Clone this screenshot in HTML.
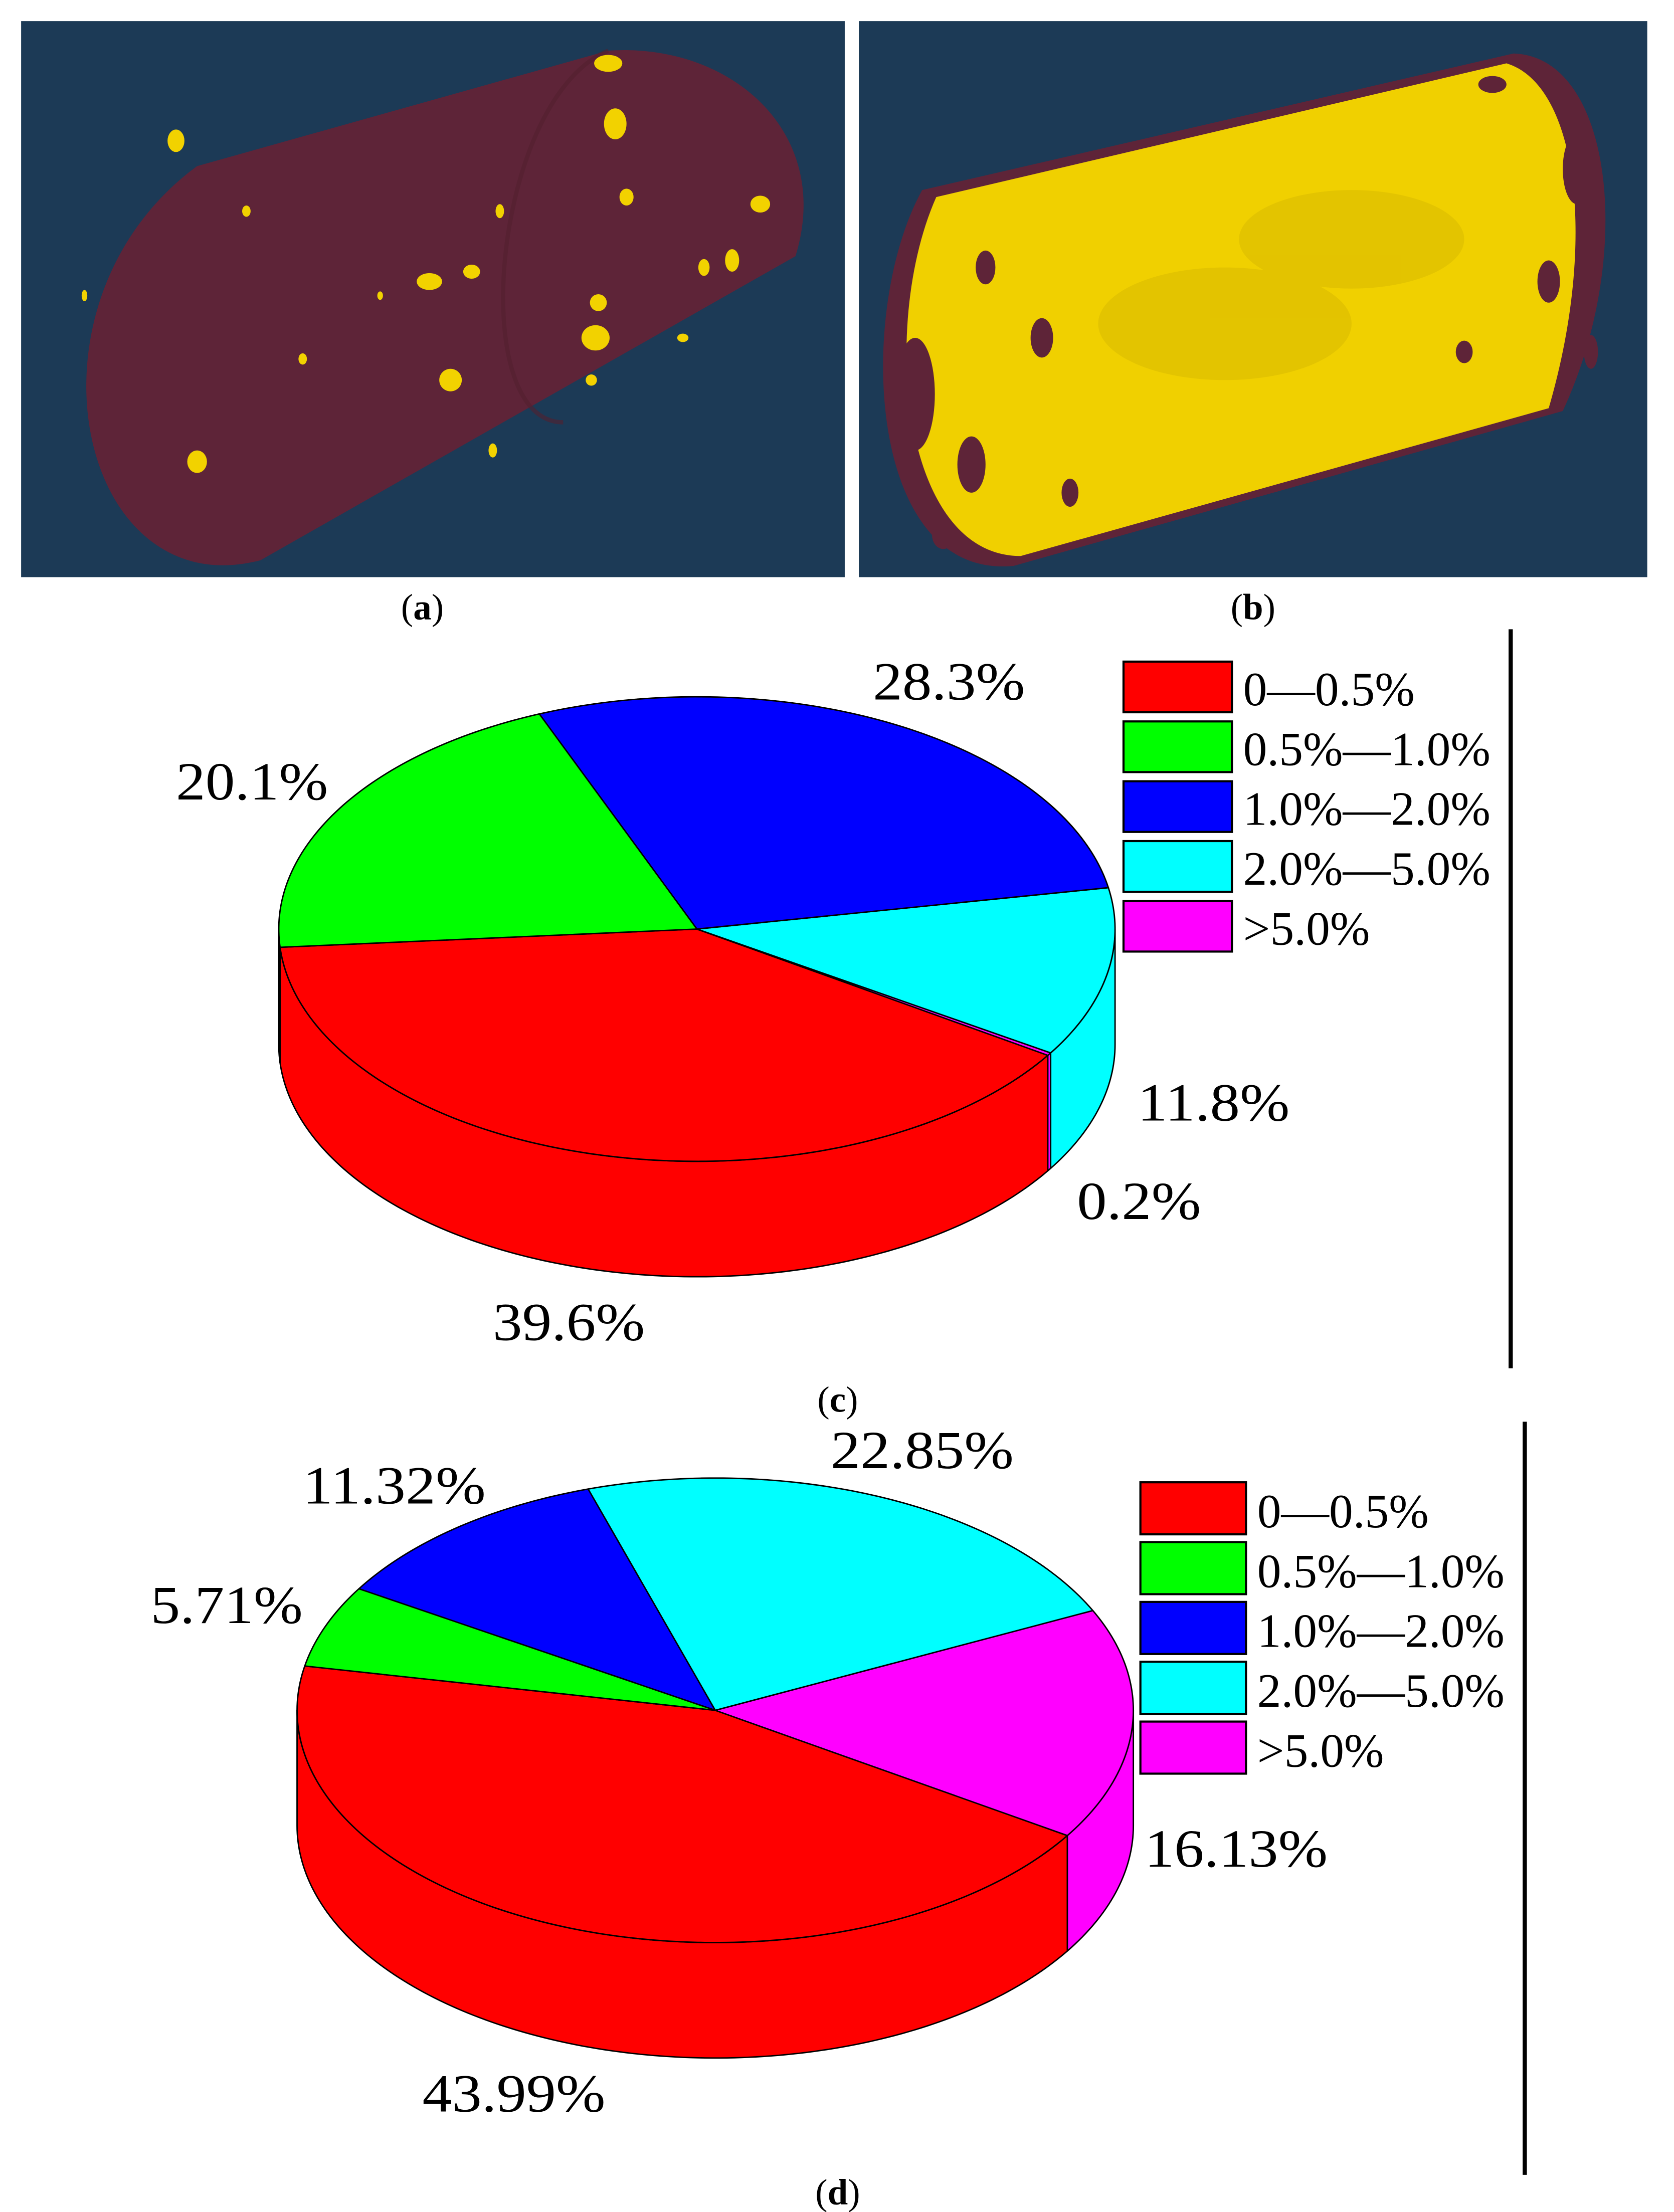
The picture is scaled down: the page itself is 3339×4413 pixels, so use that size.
<!DOCTYPE html>
<html><head><meta charset="utf-8"><style>
html,body{margin:0;padding:0;background:#fff;}
svg{display:block;}
text{font-family:"Liberation Serif",serif;fill:#000;}
</style></head><body>
<svg id="fig" width="3339" height="4413" viewBox="0 0 1189 1571.4" preserveAspectRatio="none" xmlns="http://www.w3.org/2000/svg">
<g>
<rect x="15" y="15" width="585" height="395" fill="#1c3a56"/>
<path d="M140,118 L432,36 C520,30 592,95 565,182 L185,398 C55,432 8,215 140,118 Z" fill="#5e2438"/>
<path d="M432,36 C350,70 330,300 400,300" fill="none" stroke="#54202f" stroke-width="3" opacity="0.6"/>
<g fill="#f2d200">
<ellipse cx="437" cy="88" rx="8" ry="11"/><ellipse cx="432" cy="45" rx="10" ry="6"/><ellipse cx="125" cy="100" rx="6" ry="8"/>
<ellipse cx="445" cy="140" rx="5" ry="6"/><ellipse cx="540" cy="145" rx="7" ry="6"/><ellipse cx="355" cy="150" rx="3" ry="5"/>
<ellipse cx="305" cy="200" rx="9" ry="6"/><ellipse cx="335" cy="193" rx="6" ry="5"/><ellipse cx="520" cy="185" rx="5" ry="8"/>
<ellipse cx="500" cy="190" rx="4" ry="6"/><ellipse cx="425" cy="215" rx="6" ry="6"/><ellipse cx="423" cy="240" rx="10" ry="9"/>
<ellipse cx="320" cy="270" rx="8" ry="8"/><ellipse cx="215" cy="255" rx="3" ry="4"/><ellipse cx="140" cy="328" rx="7" ry="8"/>
<ellipse cx="350" cy="320" rx="3" ry="5"/><ellipse cx="60" cy="210" rx="2" ry="4"/><ellipse cx="175" cy="150" rx="3" ry="4"/>
<ellipse cx="420" cy="270" rx="4" ry="4"/><ellipse cx="485" cy="240" rx="4" ry="3"/><ellipse cx="270" cy="210" rx="2" ry="3"/>
</g></g>
<g>
<rect x="610" y="15" width="560" height="395" fill="#1c3a56"/>
<path d="M655,135 L1075,38 C1145,40 1162,180 1110,292 L720,402 C615,412 608,220 655,135 Z" fill="#5e2438"/>
<path d="M665,140 L1070,45 C1120,60 1135,170 1100,290 L725,395 C640,395 625,230 665,140 Z" fill="#f0d000"/>
<g fill="#e0c000" opacity="0.8"><ellipse cx="870" cy="230" rx="90" ry="40"/><ellipse cx="960" cy="170" rx="80" ry="35"/></g>
<g fill="#5e2438">
<ellipse cx="650" cy="280" rx="14" ry="40"/><ellipse cx="690" cy="330" rx="10" ry="20"/><ellipse cx="740" cy="240" rx="8" ry="14"/>
<ellipse cx="1120" cy="120" rx="10" ry="25"/><ellipse cx="1100" cy="200" rx="8" ry="15"/><ellipse cx="1060" cy="60" rx="10" ry="6"/>
<ellipse cx="700" cy="190" rx="7" ry="12"/><ellipse cx="760" cy="350" rx="6" ry="10"/><ellipse cx="1040" cy="250" rx="6" ry="8"/>
<ellipse cx="640" cy="200" rx="6" ry="18"/><ellipse cx="670" cy="380" rx="8" ry="10"/><ellipse cx="1130" cy="250" rx="5" ry="12"/>
</g></g>
<text x="300" y="440" font-size="26" text-anchor="middle">(<tspan font-weight="bold">a</tspan>)</text>
<text x="890" y="440" font-size="26" text-anchor="middle">(<tspan font-weight="bold">b</tspan>)</text>
<g id="chartC"></g>
<g id="chartD"></g>
<line x1="1073" y1="447" x2="1073" y2="972" stroke="#000" stroke-width="3"/>
<line x1="1083" y1="1010" x2="1083" y2="1545" stroke="#000" stroke-width="3"/>
<text x="595" y="1003" font-size="26" text-anchor="middle">(<tspan font-weight="bold">c</tspan>)</text>
<text x="595" y="1566" font-size="26" text-anchor="middle">(<tspan font-weight="bold">d</tspan>)</text>
</svg>
<script>
const categories = ["0\u20140.5%", "0.5%\u20141.0%", "1.0%\u20142.0%", "2.0%\u20145.0%", ">5.0%"];
const colors = ["#ff0000", "#00ff00", "#0000ff", "#00ffff", "#ff00ff"];
// slice order drawn from start angle: red, magenta, cyan, blue, green
const sliceOrder = [0, 4, 3, 2, 1];
const valuesC = [39.6, 20.1, 28.3, 11.8, 0.2];
const valuesD = [43.99, 5.71, 11.32, 22.85, 16.13];
const labelsC = ["39.6%", "20.1%", "28.3%", "11.8%", "0.2%"];
const labelsD = ["43.99%", "5.71%", "11.32%", "22.85%", "16.13%"];

const NS = "http://www.w3.org/2000/svg";
function mk(tag, attrs, parent){const e=document.createElementNS(NS,tag);for(const k in attrs)e.setAttribute(k,attrs[k]);parent.appendChild(e);return e;}
function pt(g,t,dy){const r=t*Math.PI/180;return [g.cx+g.rx*Math.cos(r), g.cy+g.ry*Math.sin(r)+(dy||0)];}
function arcPts(g,a,b,dy){const n=Math.max(2,Math.ceil(Math.abs(b-a)));const out=[];for(let i=0;i<=n;i++){out.push(pt(g,a+(b-a)*i/n,dy));}return out;}

function drawPie(root, values, labels, g, labelPos, legend){
  const total = values.reduce((a,b)=>a+b,0);
  const ranges = {};
  let cum = 0;
  sliceOrder.forEach(idx=>{
    const hi = g.start - cum/total*360;
    cum += values[idx];
    const lo = g.start - cum/total*360;
    ranges[idx] = [lo, hi];
  });
  sliceOrder.forEach(idx=>{
    const [lo,hi] = ranges[idx];
    [-360,0,360].forEach(k=>{
      const a=Math.max(lo+k,0), b=Math.min(hi+k,180);
      if(b>a){
        const top=arcPts(g,a,b,0), bot=arcPts(g,b,a,g.depth);
        const d="M"+top.concat(bot).map(p=>p[0].toFixed(2)+","+p[1].toFixed(2)).join(" L")+" Z";
        const p=mk("path",{d:d,fill:colors[idx],stroke:"#000","stroke-width":"1","stroke-linejoin":"round"},root);
        
        
      }
    });
  });
  sliceOrder.forEach(idx=>{
    const [lo,hi] = ranges[idx];
    if(hi-lo<=0) return;
    const pts=arcPts(g,lo,hi,0);
    const d="M"+g.cx+","+g.cy+" L"+pts.map(p=>p[0].toFixed(2)+","+p[1].toFixed(2)).join(" L")+" Z";
    const p=mk("path",{d:d,fill:colors[idx],stroke:"#000","stroke-width":"1","stroke-linejoin":"round"},root);
    
    
  });
  labels.forEach((s,i)=>{
    if(!labelPos[i]) return;
    const t=mk("text",{x:labelPos[i][0],y:labelPos[i][1],"font-size":"38",textLength:labelPos[i][2],lengthAdjust:"spacingAndGlyphs"},root);
    t.textContent=s;
    
    
  });
  categories.forEach((c,i)=>{
    const y=legend.y+i*legend.step;
    const r=mk("rect",{x:legend.x,y:y,width:legend.w,height:legend.h,fill:colors[i],stroke:"#000","stroke-width":"1.5"},root);
    
    
    const t=mk("text",{x:legend.x+legend.w+8,y:y+legend.h-5,"font-size":"34"},root);
    t.textContent=c;
    
    
  });
}

drawPie(document.getElementById("chartC"), valuesC, labelsC,
  {cx:495,cy:660,rx:297,ry:165,depth:82,start:175.5},
  [[350,952,108],[125,568,108],[620,497,108],[808,796,108],[765,866,88]],
  {x:798,y:470,w:77,h:36,step:42.5});
drawPie(document.getElementById("chartD"), valuesD, labelsD,
  {cx:508,cy:1215,rx:297,ry:165,depth:82,start:191},
  [[300,1500,130],[107,1153,108],[215,1068,130],[590,1043,130],[813,1326,130]],
  {x:810,y:1053,w:75,h:37,step:42.5});
</script>
</body></html>
